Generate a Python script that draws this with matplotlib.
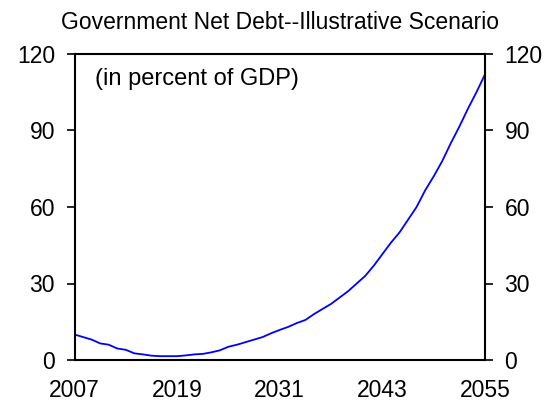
import matplotlib
matplotlib.use("Agg")
import matplotlib.pyplot as plt

# annual government net debt, percent of GDP
years = list(range(2007, 2056))
debt = [
    10.0, 9.0, 8.0, 6.5, 6.0, 4.5, 4.0, 2.6, 2.2, 1.7,
    1.5, 1.5, 1.5, 1.8, 2.2, 2.4, 3.0, 3.8, 5.2, 6.0,
    7.0, 8.0, 9.0, 10.5, 11.8, 13.0, 14.5, 15.7, 18.0, 20.0,
    22.0, 24.5, 27.0, 30.0, 33.0, 37.0, 41.5, 46.0, 50.0, 55.0,
    60.0, 66.5, 72.0, 78.0, 85.0, 91.5, 98.5, 105.0, 112.0,
]
x_ticks = [2007, 2019, 2031, 2043, 2055]
y_ticks = [0, 30, 60, 90, 120]

plt.rcParams["font.family"] = ["Liberation Sans", "DejaVu Sans"]

fig = plt.figure(figsize=(5.57, 4.05), dpi=100)
ax = fig.add_axes([0.1338, 0.1111, 0.7369, 0.7556])

ax.plot(years, debt, color="#0000FF", linewidth=1.3)

ax.set_xlim(2007, 2055)
ax.set_ylim(0, 120)
ax.set_xticks(x_ticks)
ax.set_yticks(y_ticks)

for side in ["left", "right", "top", "bottom"]:
    ax.spines[side].set_linewidth(1.5)

ax.tick_params(axis="y", which="both", left=True, right=True,
               labelleft=True, labelright=True, direction="out",
               length=5.5, width=1.2, labelsize=16.5, pad=8.5)
ax.tick_params(axis="x", length=0, labelsize=16.5, pad=14)

ax.set_title("Government Net Debt--Illustrative Scenario", fontsize=16.5, pad=18)
ax.text(0.05, 0.918, "(in percent of GDP)", transform=ax.transAxes,
        fontsize=17, va="center", ha="left")

fig.savefig("out.png", dpi=100)
